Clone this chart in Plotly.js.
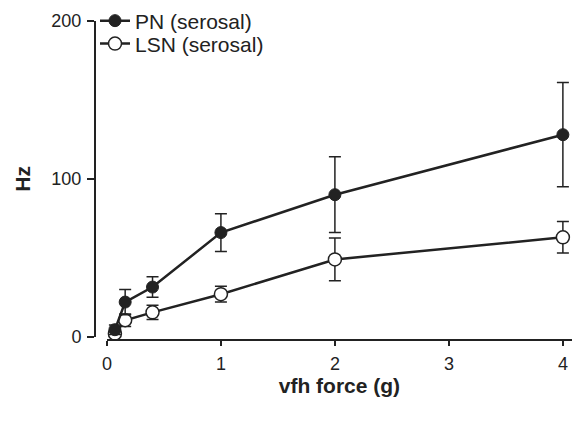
<!DOCTYPE html>
<html>
<head>
<meta charset="utf-8">
<script src="https://cdn.plot.ly/plotly-3.0.1.min.js"></script>
<style>html,body{margin:0;padding:0;background:#fff;}#chart{width:576px;height:423px;}</style>
</head>
<body>
<div id="chart"></div>
<script>
const forceG = [0.07, 0.16, 0.4, 1, 2, 4];
const pnHz = [4.5, 22, 31.5, 66, 90, 128];
const pnErr = [3, 8, 6.5, 12, 24, 33];
const lsnHz = [2, 10.5, 15.5, 27, 49, 63];
const lsnErr = [2, 4, 4.5, 5, 13.5, 10];
const seriesNames = ['PN (serosal)', 'LSN (serosal)'];
const xTicks = [0, 1, 2, 3, 4];
const yTicks = [0, 100, 200];

const ink = '#222';
const traces = [
  {
    x: forceG, y: lsnHz, name: seriesNames[1], type: 'scatter', mode: 'lines+markers',
    line: {color: ink, width: 2.5},
    marker: {symbol: 'circle', size: 13, color: '#fff', line: {color: ink, width: 1.5}},
    error_y: {type: 'data', array: lsnErr, visible: true, color: ink, thickness: 1.5, width: 6},
    cliponaxis: false, showlegend: true, legend: 'legend2'
  },
  {
    x: forceG, y: pnHz, name: seriesNames[0], type: 'scatter', mode: 'lines+markers',
    line: {color: ink, width: 2.5},
    marker: {symbol: 'circle', size: 12, color: ink, line: {color: ink, width: 1}},
    error_y: {type: 'data', array: pnErr, visible: true, color: ink, thickness: 1.5, width: 6},
    cliponaxis: false, showlegend: true, legend: 'legend'
  }
];

const legendStyle = {
  x: 0, xanchor: 'left', yanchor: 'middle',
  bgcolor: 'rgba(0,0,0,0)', font: {size: 21, color: ink}, borderwidth: 0
};

const layout = {
  width: 576, height: 423,
  margin: {l: 95, r: 4, t: 21, b: 83, autoexpand: false},
  paper_bgcolor: '#fff', plot_bgcolor: '#fff',
  font: {family: '"Liberation Sans", Arial, sans-serif', color: ink, size: 18},
  showlegend: true,
  legend: Object.assign({}, legendStyle, {y: 1.0}),
  legend2: Object.assign({}, legendStyle, {y: 0.928}),
  xaxis: {
    domain: [0.025, 1], range: [0, 4.08], anchor: 'free', position: 0,
    tickvals: xTicks, ticktext: xTicks.map(String),
    showline: true, linecolor: ink, linewidth: 2,
    ticks: 'outside', ticklen: 5, tickwidth: 1.5, tickcolor: ink,
    showgrid: false, zeroline: false,
    tickfont: {size: 18}, ticklabelstandoff: 2,
    title: {text: '<b>vfh force (g)</b>', font: {size: 21}, standoff: 0}
  },
  yaxis: {
    domain: [0.01, 1], range: [0, 200], anchor: 'free', position: 0,
    tickvals: yTicks, ticktext: yTicks.map(String),
    showline: true, linecolor: ink, linewidth: 2,
    ticks: 'outside', ticklen: 7, tickwidth: 1.5, tickcolor: ink,
    showgrid: false, zeroline: false,
    tickfont: {size: 18}, ticklabelstandoff: 2,
    title: {text: '<b>Hz</b>', font: {size: 21}, standoff: 14}
  }
};

Plotly.newPlot('chart', traces, layout, {displayModeBar: false, staticPlot: true});
</script>
</body>
</html>
